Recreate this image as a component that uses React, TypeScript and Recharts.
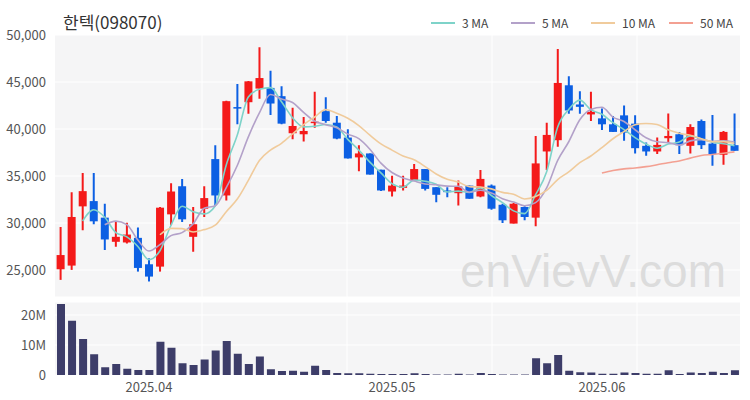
import React from 'react';
import { ComposedChart, Bar, Line, XAxis, YAxis, CartesianGrid } from 'recharts';

const dates = [
    '2025-03-20', '2025-03-21', '2025-03-24', '2025-03-25', '2025-03-26', '2025-03-27', '2025-03-28', '2025-03-31',
    '2025-04-01', '2025-04-02', '2025-04-03', '2025-04-04', '2025-04-07', '2025-04-08', '2025-04-09', '2025-04-10',
    '2025-04-11', '2025-04-14', '2025-04-15', '2025-04-16', '2025-04-17', '2025-04-18', '2025-04-21', '2025-04-22',
    '2025-04-23', '2025-04-24', '2025-04-25', '2025-04-28', '2025-04-29', '2025-04-30',
    '2025-05-02', '2025-05-07', '2025-05-08', '2025-05-09', '2025-05-12', '2025-05-13', '2025-05-14', '2025-05-15',
    '2025-05-16', '2025-05-19', '2025-05-20', '2025-05-21', '2025-05-22', '2025-05-23', '2025-05-26', '2025-05-27',
    '2025-05-28', '2025-05-29', '2025-05-30',
    '2025-06-02', '2025-06-04', '2025-06-05', '2025-06-09', '2025-06-10', '2025-06-11', '2025-06-12', '2025-06-13',
    '2025-06-16', '2025-06-17', '2025-06-18', '2025-06-19', '2025-06-20',
];

const opens = [
    25080, 25470, 31770, 32330, 30570, 28000, 27930, 28420, 25610, 25360, 30920, 33910, 28530, 31520, 36800, 32930,
    42330, 42850, 44300, 44370, 43490, 39550, 39440, 40650, 41900, 40670, 39090, 36980, 37400, 35670,
    33350, 33740, 34510, 35740, 33810, 33460, 33170, 33980, 32820, 33980, 31940, 29940, 31700, 30570, 37610, 38810,
    44650, 42610, 41550, 41130, 40500, 41450, 40570, 38210, 37610, 39020, 39440, 38210, 40850, 38450, 37260, 38280,
];
const closes = [
    26590, 30640, 33390, 30180, 28250, 28530, 28770, 25220, 24300, 31630, 33350, 30390, 29870, 32650, 32930, 42960,
    42190, 45070, 45420, 42710, 40570, 40320, 39790, 40780, 40850, 38980, 36870, 37400, 35150, 33460,
    33980, 33980, 35740, 33630, 33000, 33280, 33880, 32580, 34690, 31520, 30290, 32050, 30640, 36340, 39370, 44900,
    41970, 42360, 41830, 40500, 39690, 39620, 37960, 37610, 38310, 39260, 38280, 40210, 38280, 37330, 39690, 37680,
];
const highs = [
    29580, 33280, 35320, 35320, 32050, 30220, 30040, 29510, 26240, 31700, 34230, 34690, 31700, 33910, 38280, 43000,
    44790, 45100, 48700, 46200, 44540, 42260, 41270, 43950, 43380, 41380, 39970, 38280, 37400, 35670,
    35040, 35040, 36270, 35740, 33810, 33810, 34510, 33980, 35640, 34090, 32050, 32120, 31770, 39260, 40670, 48520,
    45600, 44020, 43950, 42190, 41380, 42500, 41450, 38560, 39090, 41660, 39690, 40500, 41020, 41480, 39790, 41660,
];
const lows = [
    23950, 25010, 29230, 29870, 27120, 27470, 27820, 24830, 23780, 24830, 29760, 30110, 26940, 30640, 31870, 32400,
    40500, 41620, 43210, 41480, 40500, 38910, 38670, 40140, 40670, 38910, 36870, 35500, 35150, 33400,
    32820, 33460, 34510, 33460, 32220, 32750, 31870, 32580, 32750, 31410, 30010, 29940, 30290, 29650, 35640, 38100,
    41620, 41620, 40850, 39900, 39690, 38740, 37400, 37150, 37330, 38560, 37330, 37400, 37860, 36100, 36200, 37680,
];
const volumes = [
    23.7, 18.1, 12.0, 6.9, 2.6, 3.7, 2.1, 1.7, 1.7, 11.1, 9.1, 3.9, 3.3, 5.2, 8.2, 11.3,
    7.1, 3.7, 6.2, 1.9, 1.3, 1.4, 1.1, 3.1, 1.7, 0.7, 0.6, 0.6, 0.4, 0.3,
    0.3, 0.3, 0.6, 0.3, 0.2, 0.2, 0.4, 0.2, 0.7, 0.3, 0.2, 0.2, 0.2, 5.6, 3.9, 6.7,
    1.4, 0.9, 0.8, 0.4, 0.4, 0.8, 0.7, 0.4, 0.4, 1.6, 0.3, 0.8, 0.7, 1.1, 0.7, 1.6,
];

const priceTicks = [25000, 30000, 35000, 40000, 45000, 50000];
const volumeTicks = [0, 10000000, 20000000];
const monthTicks = ['2025-04-01', '2025-05-02', '2025-06-02'];

const maList = [
    { key: 'ma3', n: 3, label: '3 MA', color: '#7ed3c9' },
    { key: 'ma5', n: 5, label: '5 MA', color: '#b3a1c9' },
    { key: 'ma10', n: 10, label: '10 MA', color: '#f0cb9c' },
    { key: 'ma50', n: 50, label: '50 MA', color: '#f3a092' },
];

const UP = '#f41a1a';
const DOWN = '#0c5fe3';
const FONT = '"Noto Sans CJK KR", "Noto Sans", sans-serif';

const movingAvg = (vals: number[], n: number) =>
    vals.map((_, i) => {
        if (i < n - 1) return null;
        let s = 0;
        for (let k = i - n + 1; k <= i; k++) s += vals[k];
        return s / n;
    });

const maValues = maList.map(m => movingAvg(closes, m.n));

const data = dates.map((date, i) => {
    const row: { [key: string]: any } = {
        date,
        open: opens[i],
        close: closes[i],
        high: highs[i],
        low: lows[i],
        range: [lows[i], highs[i]],
        volume: volumes[i] * 1000000,
    };
    maList.forEach((m, j) => {
        row[m.key] = maValues[j][i];
    });
    return row;
});

const Candle = (props: any) => {
    const { x, y, width, height, payload } = props;
    const { open, close, high, low } = payload;
    const cx = x + width / 2;
    const h = Math.abs(height);
    const top = Math.min(y, y + height);
    const ratio = high === low ? 0 : h / (high - low);
    const bodyTop = top + (high - Math.max(open, close)) * ratio;
    const bodyH = Math.max(1.5, Math.abs(open - close) * ratio);
    const color = close >= open ? UP : DOWN;
    return (
        <g>
            <line x1={cx} x2={cx} y1={top} y2={top + h} stroke={color} strokeWidth={2} />
            <rect x={cx - 4} y={bodyTop} width={8} height={bodyH} fill={color} />
        </g>
    );
};

const gridX = () => [202, 347, 492, 637];

const fmtPrice = (v: number) => v.toLocaleString('en-US');
const fmtVol = (v: number) => (v === 0 ? '0' : `${v / 1000000}M`);
const fmtDate = (d: string) => d.slice(0, 7).replace('-', '.');

export default function App() {
    return (
        <div style={{ position: 'absolute', left: 0, top: 0, width: 750, height: 400, background: '#fff', fontFamily: FONT }}>
            <div style={{ position: 'absolute', left: 63, top: 9, fontSize: 17, color: '#333' }}>한텍(098070)</div>

            {maList.map((m, i) => (
                <div key={m.key} style={{ position: 'absolute', left: 431 + i * 80 - (i > 2 ? 2 : 0), top: 14, display: 'flex', alignItems: 'center', fontSize: 12, color: '#444' }}>
                    <div style={{ width: 24, height: 2, background: m.color, marginRight: 7 }} />
                    <span>{m.label}</span>
                </div>
            ))}

            <div style={{ position: 'absolute', left: 0, top: 0 }}>
                <ComposedChart width={750} height={300} data={data} margin={{ top: 35, right: 10, bottom: 3, left: 0 }}>
                    <CartesianGrid fill="#f5f5f6" stroke="#ffffff" strokeWidth={1} verticalCoordinatesGenerator={gridX} />
                    <XAxis dataKey="date" hide />
                    <YAxis
                        domain={[22128, 50000]}
                        ticks={priceTicks}
                        tickFormatter={fmtPrice}
                        width={55}
                        axisLine={false}
                        tickLine={false}
                        tick={{ fontSize: 13, fill: '#555' }}
                        tickMargin={3}
                        allowDataOverflow
                    />
                    {maList.map(m => (
                        <Line
                            key={m.key}
                            dataKey={m.key}
                            stroke={m.color}
                            strokeWidth={1.6}
                            dot={false}
                            type="monotone"
                            isAnimationActive={false}
                        />
                    ))}
                    <Bar dataKey="range" shape={Candle} isAnimationActive={false} />
                </ComposedChart>
            </div>

            <div style={{ position: 'absolute', left: 460, top: 244, fontSize: 46, color: '#dcdcdc', fontFamily: '"Liberation Sans", Arial, sans-serif', pointerEvents: 'none' }}>
                enVievV.com
            </div>

            <div style={{ position: 'absolute', left: 0, top: 0 }}>
                <ComposedChart width={750} height={400} data={data} margin={{ top: 302, right: 10, bottom: 0, left: 0 }}>
                    <CartesianGrid fill="#f5f5f6" stroke="#ffffff" strokeWidth={1} verticalCoordinatesGenerator={gridX} />
                    <XAxis
                        dataKey="date"
                        ticks={monthTicks}
                        tickFormatter={fmtDate}
                        axisLine={false}
                        tickLine={false}
                        height={25}
                        tick={{ fontSize: 13, fill: '#555' }}
                        tickMargin={2}
                    />
                    <YAxis
                        domain={[0, 24330000]}
                        ticks={volumeTicks}
                        tickFormatter={fmtVol}
                        width={55}
                        axisLine={false}
                        tickLine={false}
                        tick={{ fontSize: 13, fill: '#555' }}
                        tickMargin={3}
                        allowDataOverflow
                    />
                    <Bar dataKey="volume" fill="#3d3d69" barSize={8} isAnimationActive={false} />
                </ComposedChart>
            </div>
        </div>
    );
}
